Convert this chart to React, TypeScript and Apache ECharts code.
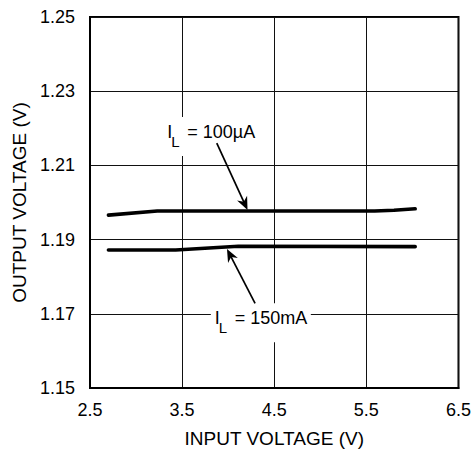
import React, { useEffect, useRef } from "react";
import * as echarts from "echarts";

// ---- data ----
const xTickValues = [2.5, 3.5, 4.5, 5.5, 6.5];
const yTickValues = [1.15, 1.17, 1.19, 1.21, 1.23, 1.25];

const vin100uA = [2.7, 3.23, 5.59, 5.8, 6.03];
const vout100uA = [1.1966, 1.1977, 1.1977, 1.1979, 1.1983];

const vin150mA = [2.7, 3.43, 4.11, 6.03];
const vout150mA = [1.1872, 1.1872, 1.1882, 1.1881];

const labelMain = ["I", "I"];
const labelSub = ["L", "L"];
const labelRest = ["= 100µA", "= 150mA"];
// anchor (data coords) of left edge / cap centre of the "I"
const labelAnchorX = [3.339, 3.855];
const labelAnchorY = [1.219, 1.1688];
// arrows: tail and tip in data coords
const arrowTailX = [3.876, 4.292];
const arrowTailY = [1.216, 1.1728];
const arrowTipX = [4.21, 3.987];
const arrowTipY = [1.198, 1.1875];

const FONT = "'Liberation Sans', Arial, Helvetica, sans-serif";

export default function App() {
  const ref = useRef<HTMLDivElement>(null);

  useEffect(() => {
    if (!ref.current) return;
    const chart = echarts.init(ref.current, undefined, { renderer: "svg" });
    const option: any = {
      animation: false,
      backgroundColor: "#fff",
      textStyle: { fontFamily: FONT },
      grid: {
        left: 90,
        right: 12,
        top: 17,
        bottom: 67,
        show: true,
        borderColor: "#000",
        borderWidth: 2,
        backgroundColor: "transparent",
      },
      xAxis: {
        type: "value",
        min: xTickValues[0],
        max: xTickValues[xTickValues.length - 1],
        interval: 1,
        name: "INPUT VOLTAGE (V)",
        nameLocation: "middle",
        nameGap: 41,
        nameTextStyle: { fontSize: 19, color: "#000", fontFamily: FONT },
        axisLine: { show: true, lineStyle: { color: "#000", width: 2 } },
        axisTick: { show: false },
        axisLabel: {
          margin: 13,
          fontSize: 18,
          color: "#000",
          fontFamily: FONT,
          formatter: (v: number) => v.toFixed(1),
        },
        splitLine: { show: true, lineStyle: { color: "#111", width: 1 } },
      },
      yAxis: {
        type: "value",
        min: yTickValues[0],
        max: yTickValues[yTickValues.length - 1],
        interval: 0.02,
        name: "OUTPUT VOLTAGE (V)",
        nameLocation: "middle",
        nameGap: 58,
        nameRotate: 90,
        nameTextStyle: { fontSize: 19, color: "#000", fontFamily: FONT },
        axisLine: { show: true, lineStyle: { color: "#000", width: 2 } },
        axisTick: { show: false },
        axisLabel: {
          margin: 15,
          fontSize: 18,
          color: "#000",
          fontFamily: FONT,
          formatter: (v: number) => v.toFixed(2),
        },
        splitLine: { show: true, lineStyle: { color: "#111", width: 1 } },
      },
      series: [
        {
          type: "line",
          name: "100uA",
          data: vin100uA.map((x, i) => [x, vout100uA[i]]),
          showSymbol: false,
          lineStyle: { color: "#000", width: 3.6, cap: "round" },
          z: 5,
        },
        {
          type: "line",
          name: "150mA",
          data: vin150mA.map((x, i) => [x, vout150mA[i]]),
          showSymbol: false,
          lineStyle: { color: "#000", width: 3.6, cap: "round" },
          z: 5,
        },
      ],
    };
    chart.setOption(option);

    const px = (x: number, y: number) =>
      chart.convertToPixel({ gridIndex: 0 }, [x, y]) as number[];

    const elems: any[] = [];
    for (let i = 0; i < labelMain.length; i++) {
      const [ax, ay] = px(labelAnchorX[i], labelAnchorY[i]);
      elems.push({
        type: "rect",
        shape: { x: ax - 4, y: ay - 15, width: 100, height: 39 },
        style: { fill: "#fff" },
        z: 100,
      });
      elems.push({
        type: "text",
        x: ax,
        y: ay,
        style: { text: labelMain[i], fontSize: 18, fontFamily: FONT, fill: "#000", align: "left", verticalAlign: "middle" },
        z: 101,
      });
      elems.push({
        type: "text",
        x: ax + 4,
        y: ay + 9.5,
        style: { text: labelSub[i], fontSize: 15, fontFamily: FONT, fill: "#000", align: "left", verticalAlign: "middle" },
        z: 101,
      });
      elems.push({
        type: "text",
        x: ax + 20,
        y: ay,
        style: { text: labelRest[i], fontSize: 18, fontFamily: FONT, fill: "#000", align: "left", verticalAlign: "middle" },
        z: 101,
      });
      // arrow
      const [sx, sy] = px(arrowTailX[i], arrowTailY[i]);
      const [tx, ty] = px(arrowTipX[i], arrowTipY[i]);
      const dx = tx - sx;
      const dy = ty - sy;
      const len = Math.sqrt(dx * dx + dy * dy);
      const ux = dx / len;
      const uy = dy / len;
      const nx = -uy;
      const ny = ux;
      const L = 13;
      const W = 5.5;
      elems.push({
        type: "line",
        shape: { x1: sx, y1: sy, x2: tx - ux * L * 0.6, y2: ty - uy * L * 0.6 },
        style: { stroke: "#000", lineWidth: 1.7 },
        z: 102,
      });
      elems.push({
        type: "polygon",
        shape: {
          points: [
            [tx, ty],
            [tx - ux * L + nx * W, ty - uy * L + ny * W],
            [tx - ux * L * 0.7, ty - uy * L * 0.7],
            [tx - ux * L - nx * W, ty - uy * L - ny * W],
          ],
        },
        style: { fill: "#000" },
        z: 102,
      });
    }
    chart.setOption({ graphic: { elements: elems } });

    return () => chart.dispose();
  }, []);

  return (
    <div
      ref={ref}
      style={{ position: "fixed", left: 0, top: 0, width: 474, height: 455, background: "#fff" }}
    />
  );
}
